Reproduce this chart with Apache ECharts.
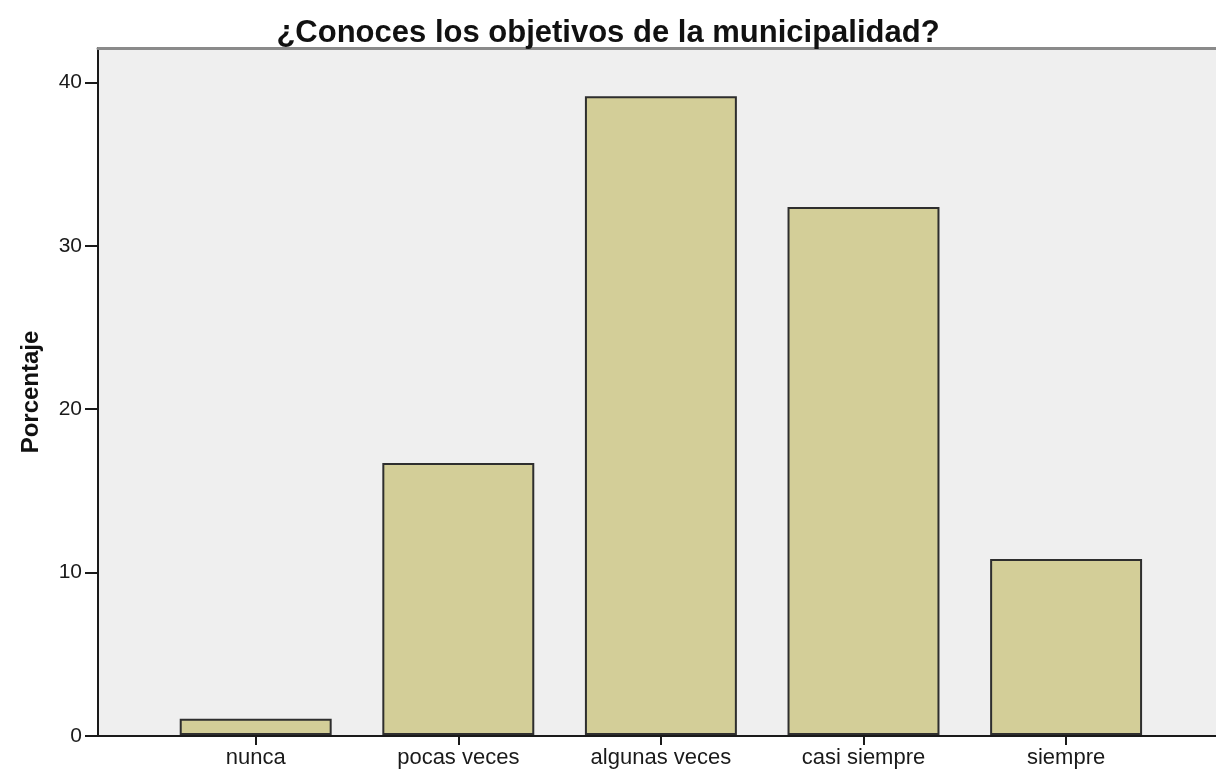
<!DOCTYPE html>
<html>
<head>
<meta charset="utf-8">
<script src="https://cdn.jsdelivr.net/npm/echarts@6/dist/echarts.min.js"></script>
<style>
  html, body { margin: 0; padding: 0; background: #ffffff; }
  #chart { width: 1216px; height: 769px; }
</style>
</head>
<body>
<div id="chart"></div>
<script>
// Response categories and percentage of respondents
const categories = ['nunca', 'pocas veces', 'algunas veces', 'casi siempre', 'siempre'];
const percentages = [1.0, 16.7, 39.2, 32.4, 10.8];
const yTicks = [0, 10, 20, 30, 40];

const chartTitle = '¿Conoces los objetivos de la municipalidad?';
const yAxisTitle = 'Porcentaje';

const FONT = 'Liberation Sans, Arial, sans-serif';
const Y_MAX = 42.1;

const chart = echarts.init(document.getElementById('chart'), null, { renderer: 'canvas' });

chart.setOption({
  animation: false,
  backgroundColor: '#ffffff',
  title: {
    text: chartTitle,
    left: 'center',
    top: 13,
    textStyle: { fontFamily: FONT, fontSize: 31, fontWeight: 'bold', color: '#111111' }
  },
  grid: [
    // full plotting frame (background + axes)
    { left: 98, right: 0, top: 48, bottom: 33, show: true, backgroundColor: '#efefef', borderWidth: 0 },
    // inner band area holding the categories; bar bases sit on the frame's baseline
    { left: 154.4, right: 48.6, top: 49, bottom: 32 }
  ],
  xAxis: [
    {
      gridIndex: 0, type: 'value', min: 0, max: 1, position: 'bottom',
      axisLine: { show: true, lineStyle: { color: '#1a1a1a', width: 2 } },
      axisTick: { show: false }, axisLabel: { show: false }, splitLine: { show: false }
    },
    {
      gridIndex: 0, type: 'value', min: 0, max: 1, position: 'top',
      axisLine: { show: true, lineStyle: { color: '#8a8a8a', width: 3 } },
      axisTick: { show: false }, axisLabel: { show: false }, splitLine: { show: false }
    },
    {
      gridIndex: 1, type: 'category', data: categories,
      axisLine: { show: false },
      axisTick: { show: true, alignWithLabel: true, length: 10, lineStyle: { color: '#1a1a1a', width: 2 } },
      axisLabel: { fontFamily: FONT, fontSize: 22, color: '#1a1a1a', margin: 12 }
    }
  ],
  yAxis: [
    {
      gridIndex: 0, type: 'value', min: 0, max: Y_MAX, interval: 10,
      name: yAxisTitle, nameLocation: 'middle', nameRotate: 90, nameGap: 55,
      nameTextStyle: { fontFamily: FONT, fontSize: 24, fontWeight: 'bold', color: '#111111' },
      axisLine: { show: true, lineStyle: { color: '#1a1a1a', width: 2 } },
      axisTick: { show: true, length: 13, customValues: yTicks, lineStyle: { color: '#1a1a1a', width: 2 } },
      axisLabel: { fontFamily: FONT, fontSize: 21, color: '#1a1a1a', margin: 16, customValues: yTicks },
      splitLine: { show: false }
    },
    { gridIndex: 1, type: 'value', min: 0, max: Y_MAX, show: false }
  ],
  series: [
    {
      type: 'bar',
      xAxisIndex: 2,
      yAxisIndex: 1,
      data: percentages,
      barWidth: '75%',
      itemStyle: { color: '#d3ce98', borderColor: '#2e2e2e', borderWidth: 2 }
    }
  ]
});
</script>
</body>
</html>
